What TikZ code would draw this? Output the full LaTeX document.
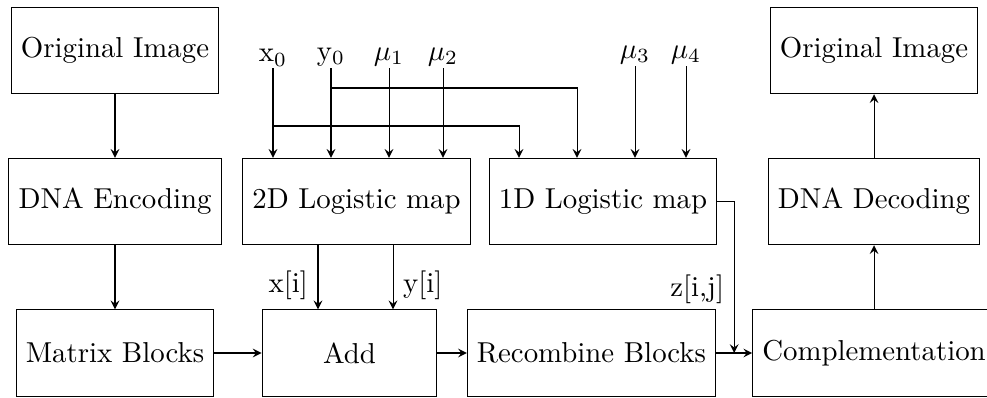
\documentclass[tikz,border=0pt]{standalone}
\usepackage{tikz}
\usetikzlibrary{shapes,arrows,positioning,calc}

\begin{document}
\begin{tikzpicture}[x=0.347pt, y=-0.347pt, line width=0.35pt,
    box/.style={rectangle, draw, minimum height=30pt, text centered},
    inp/.style={anchor=south, inner sep=0.5pt},
    arrow/.style={-stealth}]
    \useasboundingbox (0,0) rectangle (987,398);

    % Boxes - left column
    \node[box] (orig) at (115,50.5) {Original Image};
    \node[box] (enc) at (115,201.5) {DNA Encoding};
    \node[box] (blocks) at (115,353) {Matrix Blocks};
    % Boxes - middle
    \node[box] (log2d) at (356.5,201.5) {2D Logistic map};
    \node[box] (log1d) at (603,201.5) {1D Logistic map};
    \node[box, minimum width=60.7pt] (add) at (349.5,353) {Add};
    \node[box] (recomb) at (591.5,353) {Recombine Blocks};
    % Boxes - right column
    \node[box] (compl) at (874,353) {Complementation};
    \node[box] (dec) at (874,201.5) {DNA Decoding};
    \node[box] (origout) at (874,50.5) {Original Image};

    % Inputs
    \node[inp] (x0) at (273,68) {x$_0$};
    \node[inp] (y0) at (331,68) {y$_0$};
    \node[inp] (mu1) at (389,68) {$\mu_1$};
    \node[inp] (mu2) at (443,68) {$\mu_2$};
    \node[inp] (mu3) at (635,66) {$\mu_3$};
    \node[inp] (mu4) at (686,66) {$\mu_4$};
    \coordinate (x0b) at (519,126);
    \coordinate (y0b) at (577,88);
    \coordinate (zj) at ($(recomb.east)!0.5!(compl.west)$);

    % Arrows
    \draw[arrow] (orig) -- (enc);
    \draw[arrow] (enc) -- (blocks);
    \draw[arrow] (blocks) -- (add);
    \draw[arrow] (add) -- (recomb);
    \draw[arrow] (recomb) -- (compl);
    \draw[arrow] (compl) -- (dec);
    \draw[arrow] (dec) -- (origout);

    % Keys into the maps
    \draw[arrow] (x0) -- (x0 |- log2d.north);
    \draw[arrow] (y0) -- (y0 |- log2d.north);
    \draw[arrow] (mu1) -- (mu1 |- log2d.north);
    \draw[arrow] (mu2) -- (mu2 |- log2d.north);
    \draw[arrow] (mu3) -- (mu3 |- log1d.north);
    \draw[arrow] (mu4) -- (mu4 |- log1d.north);
    \draw[arrow] (x0 |- x0b) -- (x0b) -- (x0b |- log1d.north);
    \draw[arrow] (y0 |- y0b) -- (y0b) -- (y0b |- log1d.north);

    % Chaotic sequences
    \draw[arrow] (318,0 |- log2d.south) -- (318,0 |- add.north) node[pos=0.63, left] {x[i]};
    \draw[arrow] (393,0 |- log2d.south) -- (393,0 |- add.north) node[pos=0.63, right] {y[i]};
    \draw[arrow] (log1d.east) -| (zj) node[pos=0.79, left] {z[i,j]};
\end{tikzpicture}
\end{document}
